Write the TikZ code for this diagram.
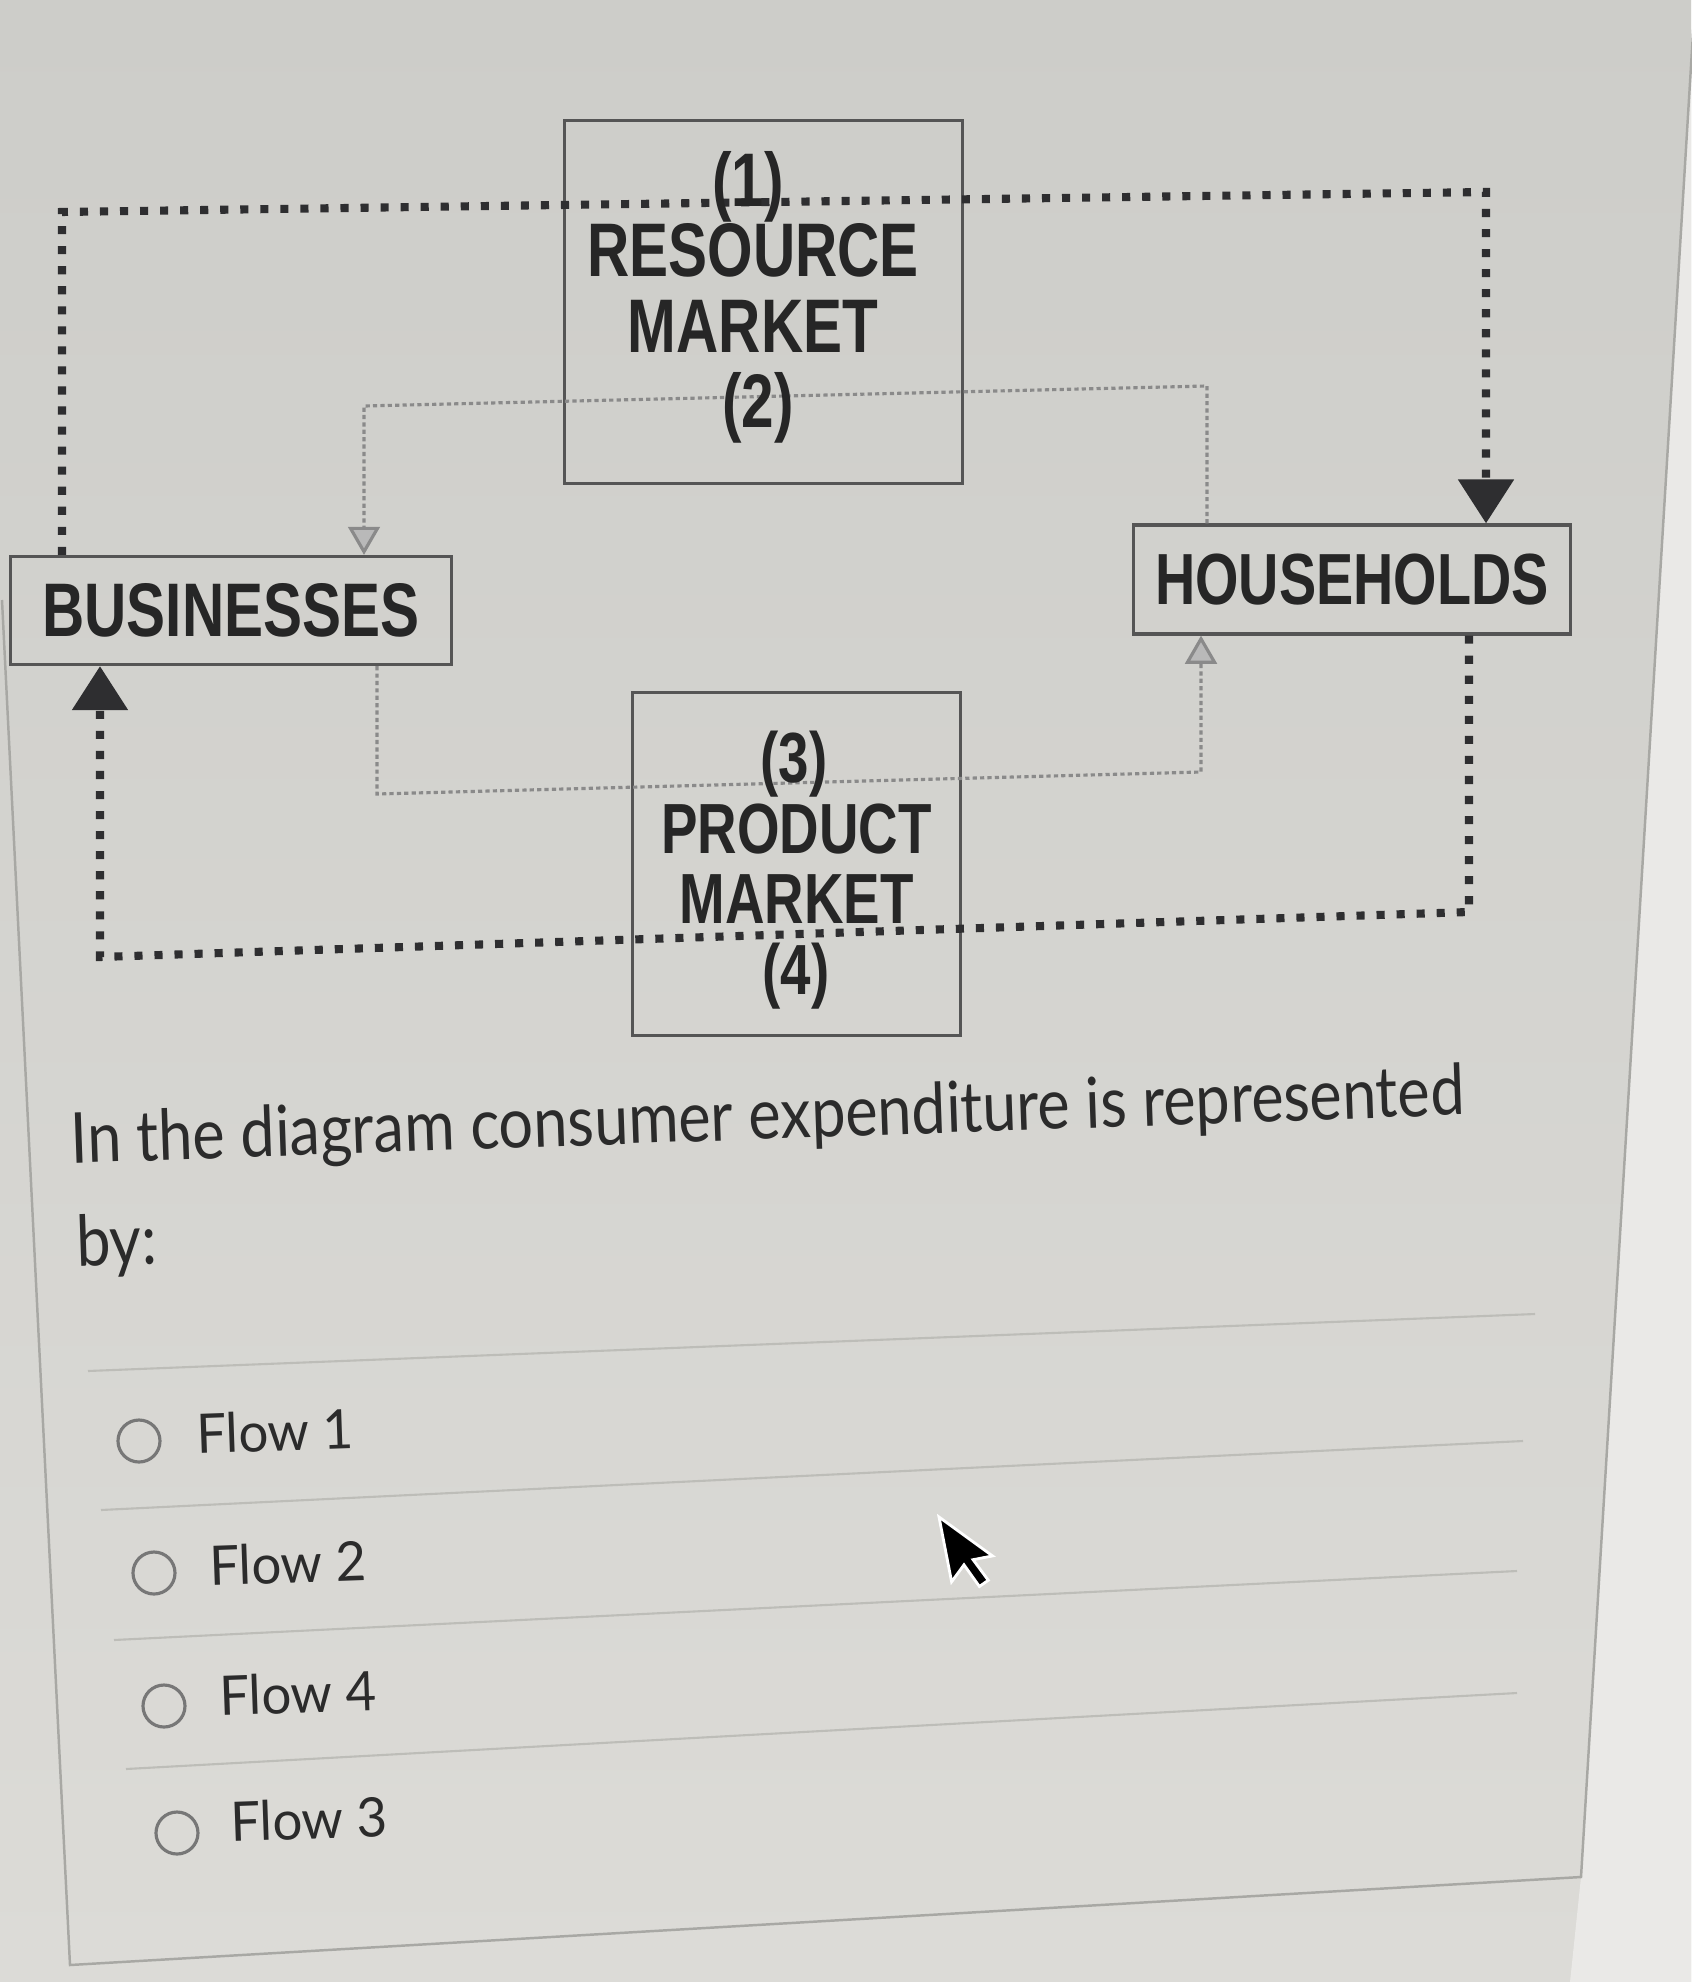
\documentclass[tikz,border=0pt]{standalone}
\usepackage{fontspec}
\newfontfamily\diagfont{Liberation Sans}[FakeStretch=0.77]
\newfontfamily\qfont{Lato}[FakeStretch=0.87]
\newfontfamily\ofont{Lato}[FakeStretch=0.97]
\usetikzlibrary{arrows.meta}
\definecolor{bgtop}{HTML}{CDCDC9}
\definecolor{bgbot}{HTML}{DCDBD7}
\definecolor{boxc}{HTML}{555555}
\definecolor{labc}{HTML}{262626}
\definecolor{flowc}{HTML}{2E2E30}
\definecolor{grayc}{HTML}{8A8A8A}
\definecolor{linec}{HTML}{BDBDB8}
\definecolor{cardc}{HTML}{A8A8A4}
\definecolor{qtext}{HTML}{2B2B2B}
\begin{document}
\begin{tikzpicture}[x=0.01cm,y=-0.01cm,
  box/.style={draw=boxc, line width=0.9pt, inner sep=0pt, align=center,
    font=\diagfont\bfseries\fontsize{21.6}{20.5}\selectfont, text=labc},
  lab/.style={inner sep=0pt, align=center,
    font=\diagfont\bfseries\fontsize{21.6}{21.6}\selectfont, text=labc},
  blackflow/.style={draw=flowc, line width=2.3pt, dash pattern=on 2.3pt off 3.4pt},
  grayflow/.style={draw=grayc, line width=0.9pt, dash pattern=on 1.2pt off 0.9pt},
  bigtip/.style={-{Triangle[width=15.4pt,length=12.5pt,fill=flowc]}},
  smalltip/.style={-{Triangle[width=9pt,length=8pt,fill=grayc!60,color=grayc]}},
  qstyle/.style={inner sep=0pt, anchor=west, text=qtext, rotate=2,
    font=\qfont\fontsize{20}{24}\selectfont},
  ostyle/.style={inner sep=0pt, anchor=west, text=qtext, rotate=2,
    font=\ofont\fontsize{15.5}{18}\selectfont},
  radio/.style={draw=boxc!80, line width=0.9pt},
  sepline/.style={draw=linec, line width=0.6pt},
  cardline/.style={draw=cardc, line width=0.7pt}
]
\useasboundingbox (0,0) rectangle (1691,1982);
\shade[top color=bgtop, bottom color=bgbot] (0,0) rectangle (1691,1982);
\fill[bgbot!60!white] (1691,0) -- (1691,1982) -- (1570,1982) -- (1581,1877) -- (1691,62) -- cycle;

% card borders
\draw[cardline] (1695,0) -- (1581,1877) -- (70,1965) -- (2,600);

% boxes
\node[box, minimum width=3.97cm, minimum height=3.62cm] (rm) at (763.5,302) {};
\node[lab] (rmt) at (753,288) {RESOURCE\\MARKET};
\node[box, minimum width=4.40cm, minimum height=1.08cm] (bus) at (231,610.5) {BUSINESSES};
\node[box, minimum width=4.36cm, minimum height=1.09cm,
  font=\diagfont\bfseries\fontsize{20.6}{20.5}\selectfont] (hh) at (1352,579.5) {HOUSEHOLDS};
\node[box, minimum width=3.27cm, minimum height=3.43cm,
  font=\diagfont\bfseries\fontsize{20.2}{20}\selectfont] (pm) at (796.5,864) {PRODUCT\\MARKET};

% flow coordinates
\coordinate (f1L) at (62,212);
\coordinate (f1R) at (1486,192);
\coordinate (f4R) at (1469,912);
\coordinate (f4L) at (100,957);
\coordinate (f2R) at (1207,386);
\coordinate (f2L) at (364,406);
\coordinate (f3L) at (377,794);
\coordinate (f3R) at (1201,772);

% gray flows
\draw[grayflow, smalltip] (hh.north -| f2R) -- (f2R) -- (f2L) -- (bus.north -| f2L);
\draw[grayflow, smalltip] (bus.south -| f3L) -- (f3L) -- (f3R) -- (hh.south -| f3R);

% black flows
\draw[blackflow, bigtip] (bus.north -| f1L) -- (f1L) -- (f1R) -- (hh.north -| f1R);
\draw[blackflow, bigtip] (hh.south -| f4R) -- (f4R) -- (f4L) -- (bus.south -| f4L);

% flow labels
\node[lab] (l1) at (748,187) {(1)};
\node[lab] (l2) at (758,408) {(2)};
\node[lab, font=\diagfont\bfseries\fontsize{20.2}{20}\selectfont] (l3) at (794,764) {(3)};
\node[lab, font=\diagfont\bfseries\fontsize{20.2}{20}\selectfont] (l4) at (796,976) {(4)};

% question
\node[qstyle] (q1) at (70,1144) {In the diagram consumer expenditure is represented};
\node[qstyle] (q2) at (76,1247) {by:};

% separators
\draw[sepline] (88,1371) -- (1535,1314);
\draw[sepline] (101,1510) -- (1523,1441);
\draw[sepline] (114,1640) -- (1517,1571);
\draw[sepline] (126,1769) -- (1517,1693);

% options
\draw[radio] (139,1441) circle[radius=21];
\node[ostyle] (o1) at (196,1434) {Flow 1};
\draw[radio] (154,1573) circle[radius=21];
\node[ostyle] (o2) at (209,1566) {Flow 2};
\draw[radio] (164,1706) circle[radius=21];
\node[ostyle] (o3) at (219,1696) {Flow 4};
\draw[radio] (177,1833) circle[radius=21];
\node[ostyle] (o4) at (230,1822) {Flow 3};

% cursor
\begin{scope}[shift={(939,1517)}, rotate=11, scale=1.1]
\filldraw[fill=black, draw=white, line width=0.8pt] (0,0) -- (0,60) -- (14,47) -- (24,69) -- (33,65) -- (23,44) -- (41,44) -- cycle;
\end{scope}
\end{tikzpicture}
\end{document}
